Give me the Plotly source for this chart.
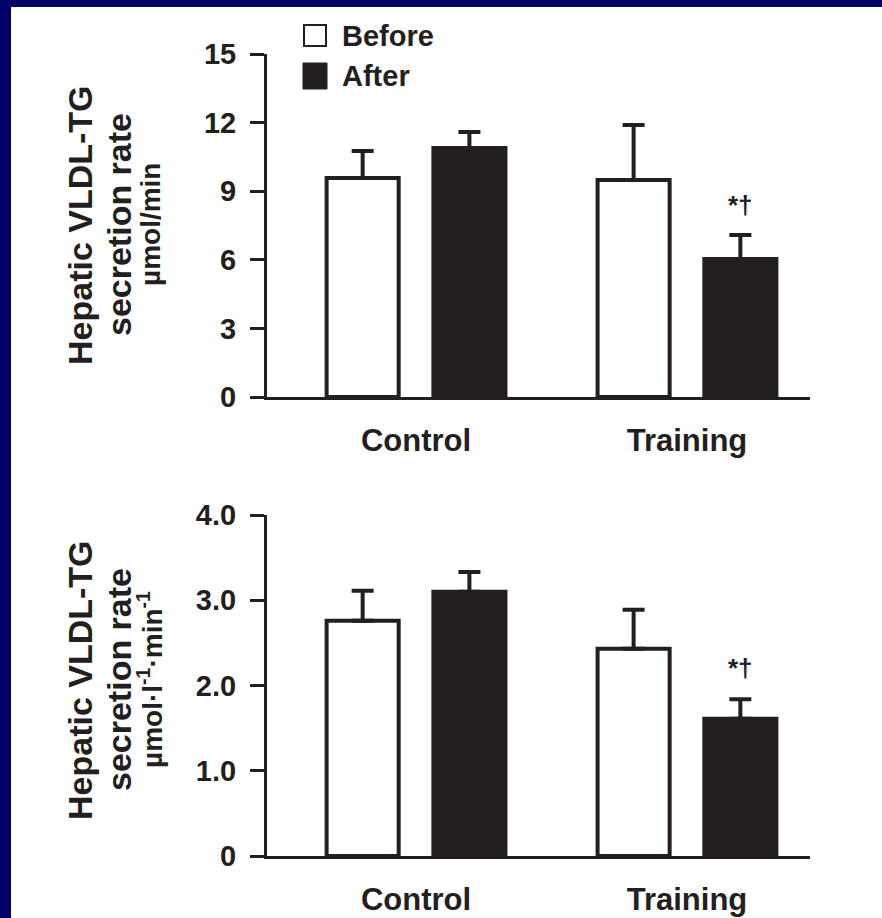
import plotly.graph_objects as go

# ---------------- data ----------------
groups = ["Control", "Training"]
series_names = ["Before", "After"]

top_before = [9.58, 9.49]
top_before_err = [1.18, 2.41]
top_after = [10.89, 6.03]
top_after_err = [0.70, 1.05]

bot_before = [2.76, 2.43]
bot_before_err = [0.35, 0.46]
bot_after = [3.10, 1.61]
bot_after_err = [0.23, 0.23]

top_tickvals = [0, 3, 6, 9, 12, 15]
top_ticktext = ["0", "3", "6", "9", "12", "15"]
bot_tickvals = [0, 1, 2, 3, 4]
bot_ticktext = ["0", "1.0", "2.0", "3.0", "4.0"]

sig_label = "*\u2020"

# ---------------- styling ----------------
W, H = 882, 918
DARK = "#231f20"
NAVY = "#000066"
FONT = "Liberation Sans, Arial, Helvetica, sans-serif"
BARGAP = 0.212
BARGROUPGAP = 0.325
X_RANGE = [-0.55, 1.454]


def px_x(p):
    return p / W


def px_y(p):
    return 1 - p / H


fig = go.Figure()


def add_panel(before, before_err, after, after_err, xa, ya):
    fig.add_trace(go.Bar(
        x=groups, y=before, name=series_names[0], xaxis=xa, yaxis=ya,
        marker=dict(color="white", line=dict(color=DARK, width=4)),
        error_y=dict(type="data", symmetric=False, array=before_err,
                     arrayminus=[0] * len(before), color=DARK, thickness=4, width=11),
        showlegend=False,
    ))
    fig.add_trace(go.Bar(
        x=groups, y=after, name=series_names[1], xaxis=xa, yaxis=ya,
        marker=dict(color=DARK, line=dict(color=DARK, width=4)),
        error_y=dict(type="data", symmetric=False, array=after_err,
                     arrayminus=[0] * len(after), color=DARK, thickness=4, width=11),
        showlegend=False,
    ))


add_panel(top_before, top_before_err, top_after, top_after_err, "x", "y")
add_panel(bot_before, bot_before_err, bot_after, bot_after_err, "x2", "y2")

tickfont = dict(family=FONT, size=29, color=DARK, weight="bold")
catfont = dict(family=FONT, size=31, color=DARK, weight="bold")

xcommon = dict(
    type="category", range=X_RANGE, domain=[px_x(267), px_x(810)],
    showline=True, linecolor=DARK, linewidth=3, ticks="", showgrid=False,
    zeroline=False, tickfont=catfont, ticklabelstandoff=14, fixedrange=True,
    automargin=False,
)
ycommon = dict(
    showline=True, linecolor=DARK, linewidth=3, ticks="outside", ticklen=14,
    tickwidth=3, tickcolor=DARK, showgrid=False, zeroline=False,
    tickfont=tickfont, ticklabelstandoff=8, fixedrange=True,
    automargin=False,
)

fig.update_layout(
    template="none",
    width=W, height=H,
    margin=dict(l=0, r=0, t=0, b=0, pad=0, autoexpand=False),
    paper_bgcolor="white", plot_bgcolor="rgba(0,0,0,0)",
    barmode="group", bargap=BARGAP, bargroupgap=BARGROUPGAP,
    xaxis=dict(**xcommon, anchor="y"),
    xaxis2=dict(**xcommon, anchor="y2"),
    yaxis=dict(**ycommon, anchor="x", range=[0, 15],
               domain=[px_y(397), px_y(54)],
               tickvals=top_tickvals, ticktext=top_ticktext),
    yaxis2=dict(**ycommon, anchor="x2", range=[0, 4],
                domain=[px_y(856), px_y(515)],
                tickvals=bot_tickvals, ticktext=bot_ticktext),
    showlegend=False,
)

# navy frame strips
fig.add_shape(type="rect", xref="paper", yref="paper", x0=0, x1=px_x(11), y0=0, y1=1,
              fillcolor=NAVY, line=dict(width=0), layer="below")
fig.add_shape(type="rect", xref="paper", yref="paper", x0=0, x1=1, y0=px_y(7), y1=1,
              fillcolor=NAVY, line=dict(width=0), layer="below")

# legend (drawn manually to match the large square swatches)
fig.add_shape(type="rect", xref="paper", yref="paper",
              x0=px_x(304), x1=px_x(326), y0=px_y(46), y1=px_y(25),
              fillcolor="white", line=dict(color=DARK, width=2))
fig.add_shape(type="rect", xref="paper", yref="paper",
              x0=px_x(303), x1=px_x(327), y0=px_y(89), y1=px_y(63),
              fillcolor=DARK, line=dict(color=DARK, width=1))
legfont = dict(family=FONT, size=29, color=DARK, weight="bold")
fig.add_annotation(xref="paper", yref="paper", x=px_x(340), y=px_y(36),
                   xanchor="left", yanchor="middle", text=series_names[0],
                   showarrow=False, font=legfont)
fig.add_annotation(xref="paper", yref="paper", x=px_x(340), y=px_y(76),
                   xanchor="left", yanchor="middle", text=series_names[1],
                   showarrow=False, font=legfont)

# y-axis titles (three lines each)
titlefont = dict(family=FONT, size=34, color=DARK, weight="bold")
unitfont = dict(family=FONT, size=28, color=DARK, weight="bold")


def add_titles(yc, unit_text):
    fig.add_annotation(xref="paper", yref="paper", x=px_x(80), y=px_y(yc),
                       text="Hepatic VLDL-TG", textangle=-90, showarrow=False,
                       xanchor="center", yanchor="middle", font=titlefont)
    fig.add_annotation(xref="paper", yref="paper", x=px_x(119), y=px_y(yc),
                       text="secretion rate", textangle=-90, showarrow=False,
                       xanchor="center", yanchor="middle", font=titlefont)
    fig.add_annotation(xref="paper", yref="paper", x=px_x(150), y=px_y(yc),
                       text=unit_text, textangle=-90, showarrow=False,
                       xanchor="center", yanchor="middle", font=unitfont)


add_titles(225, "\u00b5mol/min")
add_titles(680, "\u00b5mol\u00b7l<sup>-1</sup>\u00b7min<sup>-1</sup>")

# significance markers above Training "After" bars
after_offset = (1 - BARGAP) / 4
sigfont = dict(family=FONT, size=26, color=DARK, weight="bold")
ti = groups.index("Training")
fig.add_annotation(xref="x", yref="y", x=ti + after_offset,
                   y=top_after[ti] + top_after_err[ti], yshift=30,
                   text=sig_label, showarrow=False, font=sigfont,
                   xanchor="center", yanchor="middle")
fig.add_annotation(xref="x2", yref="y2", x=ti + after_offset,
                   y=bot_after[ti] + bot_after_err[ti], yshift=31,
                   text=sig_label, showarrow=False, font=sigfont,
                   xanchor="center", yanchor="middle")

fig.write_html("out.html")
